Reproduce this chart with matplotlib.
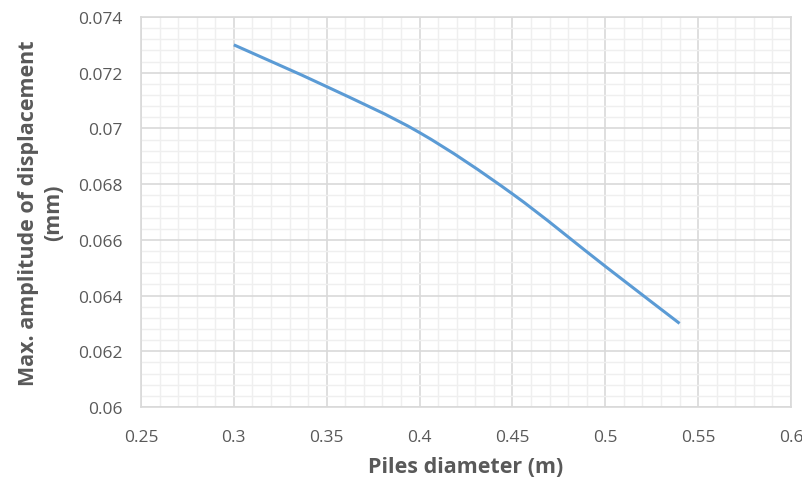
import matplotlib
matplotlib.use("Agg")
import matplotlib.pyplot as plt
from matplotlib.path import Path
from matplotlib.patches import PathPatch
from matplotlib.ticker import MultipleLocator, FuncFormatter

# datos
diametro = [0.30, 0.35, 0.40, 0.45, 0.50, 0.54]
amplitud = [0.0730, 0.0715, 0.06985, 0.06765, 0.06505, 0.0630]

plt.rcParams['font.family'] = ['Open Sans', 'DejaVu Sans']

fig = plt.figure(figsize=(8.03, 4.81), dpi=100)
ax = fig.add_axes([141/803, 1 - 408/481, 650/803, 390/481])

# linea suavizada como en Excel (bezier tipo Catmull-Rom)
pts = list(zip(diametro, amplitud))
verts = [pts[0]]
codes = [Path.MOVETO]
for i in range(len(pts) - 1):
    p0 = pts[i - 1] if i > 0 else pts[i]
    p1, p2 = pts[i], pts[i + 1]
    p3 = pts[i + 2] if i + 2 < len(pts) else pts[i + 1]
    c1 = (p1[0] + (p2[0] - p0[0]) / 6, p1[1] + (p2[1] - p0[1]) / 6)
    c2 = (p2[0] - (p3[0] - p1[0]) / 6, p2[1] - (p3[1] - p1[1]) / 6)
    verts += [c1, c2, p2]
    codes += [Path.CURVE4] * 3
ax.add_patch(PathPatch(Path(verts, codes), facecolor='none', edgecolor='#5b9bd5',
                       linewidth=2.2, capstyle='butt', zorder=3))

ax.set_xlim(0.25, 0.6)
ax.set_ylim(0.06, 0.074)
ax.xaxis.set_major_locator(MultipleLocator(0.05))
ax.xaxis.set_minor_locator(MultipleLocator(0.01))
ax.yaxis.set_major_locator(MultipleLocator(0.002))
ax.yaxis.set_minor_locator(MultipleLocator(0.0004))

fmt = FuncFormatter(lambda v, p: f'{v:.3f}'.rstrip('0').rstrip('.') if v else '0')
ax.xaxis.set_major_formatter(fmt)
ax.yaxis.set_major_formatter(fmt)

ax.grid(which='major', color='#d9d9d9', linewidth=1.2)
ax.grid(which='minor', color='#efefef', linewidth=1.0)
ax.set_axisbelow(True)
for s in ax.spines.values():
    s.set_color('#d9d9d9')
    s.set_linewidth(1.2)

ax.tick_params(which='both', length=0, labelsize=12.5, colors='#595959')
ax.tick_params(axis='x', pad=16)
ax.tick_params(axis='y', pad=13)

ax.set_xlabel('Piles diameter (m)', fontsize=15.5, fontweight='bold', color='#595959', labelpad=8)
ax.set_ylabel('Max. amplitude of displacement\n(mm)', fontsize=15.5, fontweight='bold',
              color='#595959', labelpad=10, linespacing=1.3)

fig.savefig('out.png', dpi=100)
